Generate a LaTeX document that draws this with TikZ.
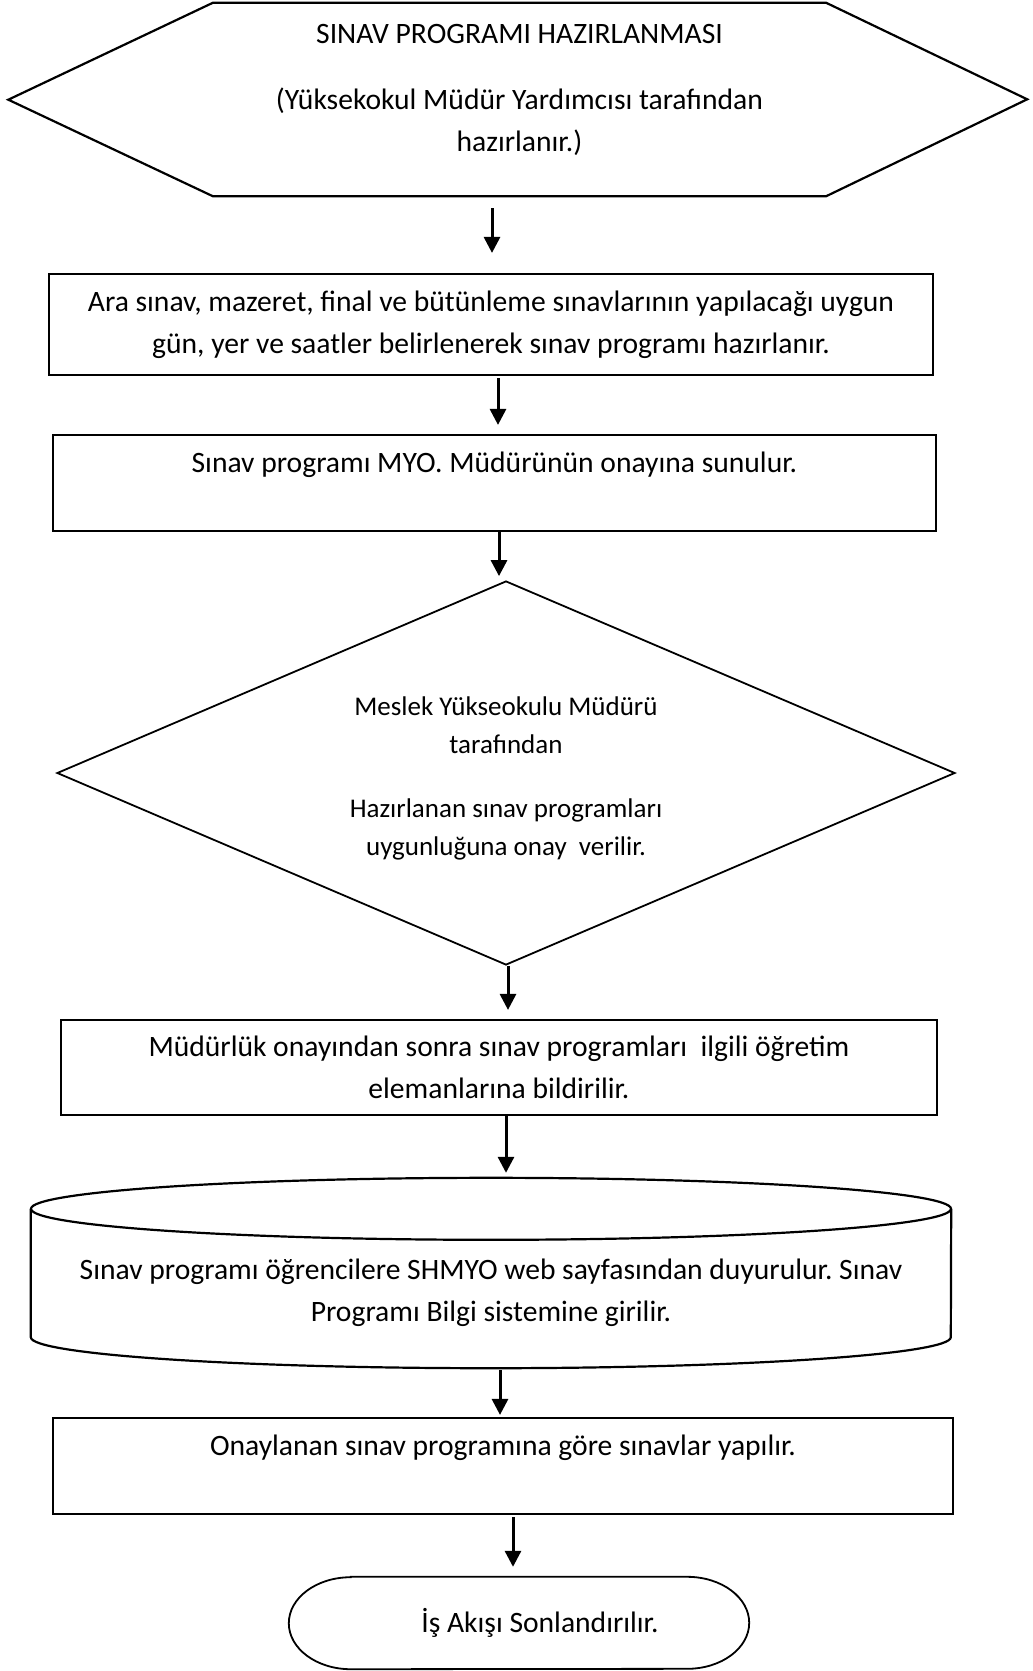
\documentclass[tikz,border=0pt]{standalone}
\usepackage{fontspec}
\setmainfont{Carlito}
\frenchspacing
\usetikzlibrary{arrows.meta, shapes.geometric}

\begin{document}
\begin{tikzpicture}[x=1pt,y=-1pt,box/.style={draw,line width=2.2pt,align=center,inner sep=0pt,font=\fontsize{29.6}{42}\selectfont},plain/.style={align=center,inner sep=0pt,font=\fontsize{29.6}{42}\selectfont},decision/.style={diamond,aspect=2.34,draw,line width=1.8pt,align=center,inner sep=0pt,font=\fontsize{27}{38}\selectfont},outline/.style={line width=2.2pt},arrow/.style={-{Triangle[width=16pt,length=16pt]},line width=3pt}]
\useasboundingbox (0,0) rectangle (1033,1671);
\node[plain,minimum width=613pt,minimum height=193pt] (start) at (519.5,99.5){SINAV PROGRAMI HAZIRLANMASI\\[24pt](Yüksekokul Müdür Yardımcısı tarafından\\hazırlanır.)\\[-19pt]\mbox{}};
\draw[outline] (start.north west) -- (start.north east) -- ++(201,96.5) -- (start.south east) -- (start.south west) -- ++(-204.5,-96.5) -- cycle;
\node[box,minimum width=884pt,minimum height=101pt] (prepare) at (491,324.5){Ara sınav, mazeret, final ve bütünleme sınavlarının yapılacağı uygun\\gün, yer ve saatler belirlenerek sınav programı hazırlanır.};
\node[box,minimum width=883pt,minimum height=96pt] (submit) at (494.5,483){Sınav programı MYO. Müdürünün onayına sunulur.\\\mbox{}};
\node[decision,minimum width=898pt,minimum height=384pt] (approve) at (506,773){\mbox{}\\[-9pt]Meslek Yükseokulu Müdürü\\tarafından\\[26pt]Hazırlanan sınav programları\\uygunluğuna onay\ \ verilir.};
\node[box,minimum width=876pt,minimum height=95pt] (notify) at (499,1067.5){Müdürlük onayından sonra sınav programları\ \ ilgili öğretim\\elemanlarına bildirilir.};
\node[plain,minimum width=920pt,minimum height=159pt,text height=74pt,text depth=8pt] (web) at (491,1288.5){Sınav programı öğrencilere SHMYO web sayfasından duyurulur. Sınav\\Programı Bilgi sistemine girilir.};
\draw[outline] (web.north) ellipse[x radius=460pt,y radius=31pt];
\draw[outline] (web.north west) -- ([yshift=31pt]web.south west) arc[start angle=180,end angle=360,x radius=460pt,y radius=31pt] -- (web.north east);
\node[box,minimum width=900pt,minimum height=96pt] (exams) at (503,1466){Onaylanan sınav programına göre sınavlar yapılır.\\\mbox{}};
\node[plain,minimum width=336pt,minimum height=92pt] (stop) at (519,1623){\hspace*{42pt}İş Akışı Sonlandırılır.};
\draw[line width=1.8pt] (stop.north west) -- (stop.north east) arc[start angle=90,end angle=-90,x radius=62pt,y radius=46pt] -- (stop.south west) arc[start angle=270,end angle=90,x radius=62pt,y radius=46pt] -- cycle;
\draw[arrow,shorten <=12pt,shorten >=20pt] ([xshift=-27.5pt]start.south) -- ([xshift=-27.5pt]start.south |- prepare.north);
\draw[arrow,shorten <=2pt,shorten >=9pt] ([xshift=7pt]prepare.south) -- ([xshift=7pt]prepare.south |- submit.north);
\draw[arrow,shorten >=4pt] ([xshift=4.5pt]submit.south) -- ([xshift=4.5pt]submit.south |- approve.north);
\draw[arrow,shorten >=9pt] ([xshift=2pt]approve.south) -- ([xshift=2pt]approve.south |- notify.north);
\draw[arrow,shorten >=36pt] ([xshift=7pt]notify.south) -- ([xshift=7pt]notify.south |- web.north);
\draw[arrow,shorten <=2pt,shorten >=2pt] ([xshift=9pt]web.south) -- ([xshift=9pt]web.south |- exams.north);
\draw[arrow,shorten <=2pt,shorten >=10pt] ([xshift=10pt]exams.south) -- ([xshift=10pt]exams.south |- stop.north);
\end{tikzpicture}
\end{document}
